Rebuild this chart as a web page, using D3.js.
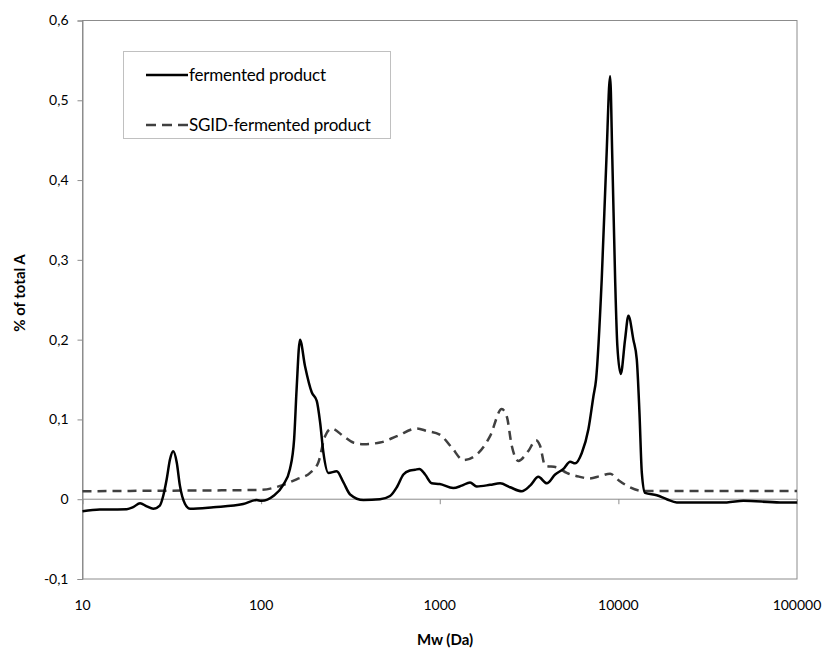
<!DOCTYPE html>
<html>
<head>
<meta charset="utf-8">
<script src="https://cdn.jsdelivr.net/npm/d3@7"></script>
<style>
  body { margin: 0; background: #fff; }
  svg text { font-family: Lato, "Open Sans", sans-serif; fill: #000; }
</style>
</head>
<body>
<svg id="chart" width="824" height="649"></svg>
<script>
// Molecular weight distribution (Mw in Da) and share of total absorbance
const fermentedMw = [10, 12.5, 17.7, 19.2, 21.0, 22.9, 24.9, 27.1, 28.3, 29.6, 30.9, 32.2, 33.7, 35.1, 37.5, 40.0, 54.0, 79.4, 94.4,
  100.7, 117, 133, 145, 153, 158, 165, 176, 192, 205, 214, 223, 238, 265, 289, 315, 374, 463,
  527, 575, 626, 682, 728, 769, 828, 902, 1000, 1190, 1327, 1478, 1611, 1913, 2177, 2476, 2878, 3205, 3566, 3974,
  4426, 4923, 5370, 5730, 6240, 6800, 7250, 7500, 8070, 8570, 8990, 9250, 9590, 9870, 10310, 10900, 11380, 12130,
  12680, 13120, 13530, 14100, 16400, 18660, 21230, 40460, 50100, 80400, 100000];
const fermentedValues = [-0.015, -0.013, -0.0125, -0.010, -0.005, -0.009, -0.012, -0.008, 0.004, 0.025, 0.050, 0.060, 0.046, 0.017, -0.006, -0.012, -0.010, -0.006, -0.001,
  -0.002, 0.004, 0.018, 0.038, 0.075, 0.138, 0.200, 0.167, 0.134, 0.123, 0.096, 0.059, 0.033, 0.035, 0.021, 0.006, -0.001, 0.000,
  0.004, 0.015, 0.031, 0.036, 0.037, 0.038, 0.031, 0.020, 0.019, 0.014, 0.017, 0.021, 0.016, 0.018, 0.020, 0.015, 0.010, 0.017, 0.028, 0.020,
  0.031, 0.038, 0.047, 0.045, 0.058, 0.088, 0.129, 0.150, 0.276, 0.426, 0.530, 0.426, 0.276, 0.192, 0.157, 0.200, 0.230, 0.200,
  0.175, 0.109, 0.033, 0.008, 0.005, 0.000, -0.004, -0.004, -0.002, -0.004, -0.004];

const sgidMw = [10, 18.5, 98.6, 133, 158, 188, 209, 228, 248, 289, 328, 374, 463, 575, 743, 846, 1000, 1166, 1356, 1611, 1913,
  2223, 2371, 2530, 2754, 3133, 3459, 3645, 3890, 4522, 5140, 6105, 6800, 7910, 8990, 10000, 11140, 13800, 100000];
const sgidValues = [0.010, 0.0104, 0.0117, 0.018, 0.025, 0.033, 0.046, 0.079, 0.0886, 0.079, 0.071, 0.069, 0.071, 0.079, 0.0886, 0.0856, 0.081, 0.065, 0.049, 0.056, 0.079,
  0.113, 0.104, 0.067, 0.048, 0.0605, 0.074, 0.067, 0.042, 0.040, 0.033, 0.028, 0.026, 0.029, 0.032, 0.024, 0.017, 0.0104, 0.0104];

const xTicks = [10, 100, 1000, 10000, 100000];
const yTicks = [-0.1, 0, 0.1, 0.2, 0.3, 0.4, 0.5, 0.6];
const seriesNames = ["fermented product", "SGID-fermented product"];

const svg = d3.select("#chart");
const plotL = 82.5, plotR = 797, plotT = 20.5, plotB = 579;

const x = d3.scaleLog().domain([10, 100000]).range([plotL, plotR]);
const y = d3.scaleLinear().domain([-0.1, 0.6]).range([plotB, plotT]);

const axisColor = "#8c8c8c";

// plot frame
svg.append("rect")
  .attr("x", plotL).attr("y", plotT)
  .attr("width", plotR - plotL).attr("height", plotB - plotT)
  .attr("fill", "none").attr("stroke", axisColor).attr("stroke-width", 1);

// y axis
const fmtY = d => (Math.abs(d) < 1e-9 ? "0" : d3.format(".1f")(d).replace(".", ",").replace("−", "-"));
const yAxis = d3.axisLeft(y).tickValues(yTicks).tickSize(5).tickPadding(9).tickFormat(fmtY);
const gy = svg.append("g").attr("transform", `translate(${plotL},0)`).call(yAxis);
gy.select(".domain").attr("stroke", axisColor);
gy.selectAll(".tick line").attr("stroke", axisColor);
gy.selectAll(".tick text").attr("font-size", 14).attr("font-family", "Lato, sans-serif").attr("fill", "#000");

// horizontal axis line at zero with Mw ticks
const gx = svg.append("g").attr("transform", `translate(0,${y(0)})`)
  .call(d3.axisBottom(x).tickValues(xTicks).tickSize(5).tickFormat(""));
gx.select(".domain").attr("stroke", axisColor).attr("d", `M${plotL},0H${plotR}`);
gx.selectAll(".tick line").attr("stroke", axisColor);

// Mw tick labels below the frame
svg.append("g").selectAll("text").data(xTicks).join("text")
  .attr("x", d => x(d)).attr("y", 610)
  .attr("text-anchor", "middle").attr("font-size", 14)
  .text(d => String(d));

// axis titles
svg.append("text")
  .attr("transform", `translate(25,293) rotate(-90)`)
  .attr("text-anchor", "middle").attr("font-size", 15).attr("font-weight", "bold")
  .text("% of total A");
svg.append("text")
  .attr("x", 445).attr("y", 645)
  .attr("text-anchor", "middle").attr("font-size", 15).attr("font-weight", "bold")
  .text("Mw (Da)");

// curves
const line = d3.line().x(d => x(d[0])).y(d => y(d[1])).curve(d3.curveMonotoneX);
svg.append("path")
  .datum(sgidMw.map((m, i) => [m, sgidValues[i]]))
  .attr("d", line).attr("fill", "none")
  .attr("stroke", "#404040").attr("stroke-width", 2.5).attr("stroke-dasharray", "9,6");
svg.append("path")
  .datum(fermentedMw.map((m, i) => [m, fermentedValues[i]]))
  .attr("d", line).attr("fill", "none")
  .attr("stroke", "#000").attr("stroke-width", 2.5).attr("stroke-linejoin", "round");

// legend
const lg = svg.append("g");
lg.append("rect").attr("x", 123.5).attr("y", 51.5).attr("width", 267).attr("height", 87)
  .attr("fill", "#fff").attr("stroke", "#808080").attr("stroke-width", 1).attr("stroke-dasharray", "1,1");
const legendRows = [
  { name: seriesNames[0], y: 75, stroke: "#000", dash: null },
  { name: seriesNames[1], y: 125, stroke: "#404040", dash: "10,6" }
];
legendRows.forEach(r => {
  lg.append("line").attr("x1", 146).attr("x2", 188).attr("y1", r.y).attr("y2", r.y)
    .attr("stroke", r.stroke).attr("stroke-width", 2.5).attr("stroke-dasharray", r.dash);
  lg.append("text").attr("x", 189).attr("y", r.y).attr("dy", "0.35em")
    .attr("font-size", 17).attr("letter-spacing", -0.2).text(r.name);
});
</script>
</body>
</html>
